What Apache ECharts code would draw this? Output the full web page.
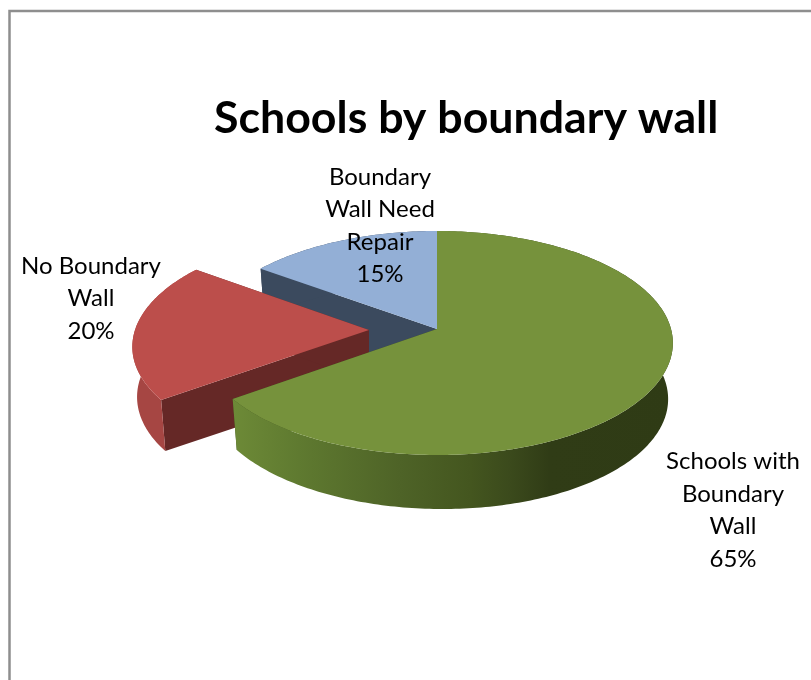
<!DOCTYPE html>
<html>
<head>
<meta charset="utf-8">
<style>html,body{margin:0;padding:0;background:#fff}#c{width:811px;height:680px}</style>
<script src="https://cdn.jsdelivr.net/npm/echarts@6/dist/echarts.min.js"></script>
</head>
<body>
<div id="c"></div>
<script>
const titleText = 'Schools by boundary wall';
const categories = ['Schools with\nBoundary\nWall', 'No Boundary\nWall', 'Boundary\nWall Need\nRepair'];
const values = [65, 20, 15];

const topColors = ['#76923c', '#bc4e4b', '#93afd6'];
const radialColors = ['#3d4f1f', '#652826', '#3b4a5e'];
const offsets = [[0, 0], [-68, 1], [0, 0]];
const skews = [0, -6, 0];
const labelPos = [[733, 445.5], [91, 250], [380, 161]];
const layers = [3, 2, 1];

const CX = 437, CY = 329, RX = 234, RY = 110.25, K = 0.125, SHRINK = 0.98;
const total = values.reduce((a, b) => a + b, 0);

function project(theta, r, off, low, skew) {
  const v = -Math.cos(theta) * r, u = Math.sin(theta) * r;
  const s = 1 / (1 - K * v);
  let x = RX * u * s + (skew || 0) * v, y = RY * v * s;
  if (low) { x *= SHRINK; y += 53 + 3 * u + v; }
  return [CX + off[0] + x, CY + off[1] + y];
}
function arc(a0, a1, off, low, skew) {
  const pts = [], n = Math.max(8, Math.ceil((a1 - a0) * 60));
  for (let i = 0; i <= n; i++) pts.push(project(a0 + (a1 - a0) * i / n, 1, off, low, skew));
  return pts;
}
function radialWall(theta, off, skew) {
  return [project(0, 0, off, false), project(theta, 1, off, false, skew), project(theta, 1, off, true, skew), project(0, 0, off, true)];
}
function wallFill(i) {
  if (i === 0) {
    return new echarts.graphic.LinearGradient(0, 0, 1, 0, [
      { offset: 0, color: '#6d8a37' }, { offset: 0.15, color: '#5f7a30' },
      { offset: 0.38, color: '#4e6327' }, { offset: 0.54, color: '#44561f' },
      { offset: 0.63, color: '#3b4a1c' }, { offset: 0.72, color: '#303c16' },
      { offset: 1, color: '#2f3b15' }
    ]);
  }
  if (i === 1) return '#a64643';
  return '#3b4a5e';
}

function renderItem(params, api) {
  const i = params.dataIndex;
  const before = values.slice(0, i).reduce((a, b) => a + b, 0);
  const a0 = before / total * Math.PI * 2;
  const a1 = (before + api.value(0)) / total * Math.PI * 2;
  const off = offsets[i], sk = skews[i], z = layers[i] * 10;
  const top = arc(a0, a1, off, false, sk), low = arc(a0, a1, off, true, sk);
  const apex = project(0, 0, off, false);
  const pct = Math.round(api.value(0) / total * 100) + '%';
  const poly = (points, fill, dz) => ({
    type: 'polygon', z2: z + dz, shape: { points },
    style: { fill, stroke: null }
  });
  return {
    type: 'group',
    children: [
      poly(radialWall(a0, off, sk), radialColors[i], 0),
      poly(radialWall(a1, off, sk), radialColors[i], 0),
      poly(top.concat(low.slice().reverse()), wallFill(i), 1),
      poly([apex].concat(top), topColors[i], 2),
      {
        type: 'text', z2: 100, x: labelPos[i][0], y: labelPos[i][1],
        style: {
          text: categories[i] + '\n' + pct, align: 'center', verticalAlign: 'top',
          font: '24px Lato', lineHeight: 32.5, fill: '#000'
        }
      }
    ]
  };
}

const chart = echarts.init(document.getElementById('c'), null, { renderer: 'canvas' });
chart.setOption({
  animation: false,
  backgroundColor: '#fff',
  title: {
    text: titleText, left: 209, top: 91,
    textStyle: { fontFamily: 'Lato', fontWeight: 'bold', fontSize: 44.7, color: '#000' }
  },
  graphic: [{
    type: 'polyline', silent: true,
    shape: { points: [[9.5, 680], [9.5, 11], [811, 11]] },
    style: { stroke: '#8e8e8e', lineWidth: 2.5, fill: null }
  }],
  series: [{
    type: 'custom',
    coordinateSystem: 'none',
    renderItem,
    data: values.map(v => [v])
  }]
});
</script>
</body>
</html>
